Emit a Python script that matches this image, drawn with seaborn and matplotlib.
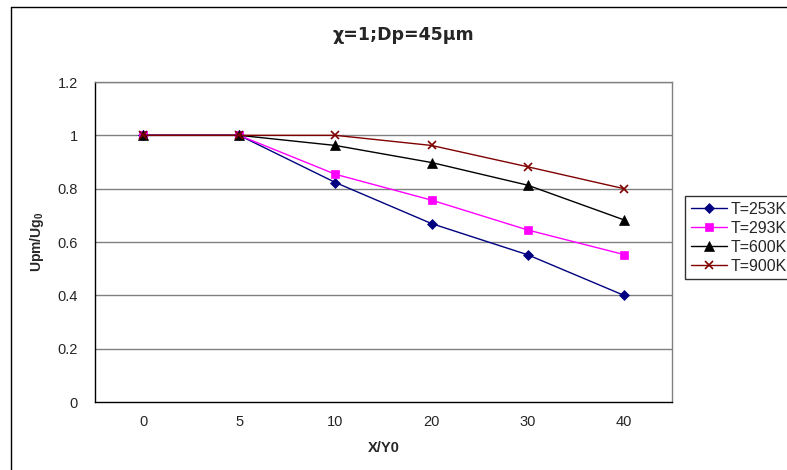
import matplotlib
matplotlib.use("Agg")
import matplotlib.pyplot as plt
import seaborn as sns
import pandas as pd
from matplotlib.lines import Line2D

categories = ["0", "5", "10", "20", "30", "40"]
t253 = [1.0, 1.0, 0.823, 0.669, 0.552, 0.40]
t293 = [1.0, 1.0, 0.854, 0.757, 0.645, 0.553]
t600 = [1.0, 1.0, 0.962, 0.898, 0.813, 0.683]
t900 = [1.0, 1.0, 1.0, 0.962, 0.882, 0.80]
series_names = ["T=253K", "T=293K", "T=600K", "T=900K"]
series_values = [t253, t293, t600, t900]
colors = ["#000080", "#FF00FF", "#000000", "#800000"]
markers = ["D", "s", "^", "x"]
msizes = [5, 5.5, 6.5, 6]
yticks = [0, 0.2, 0.4, 0.6, 0.8, 1.0, 1.2]
ytick_labels = ["0", "0.2", "0.4", "0.6", "0.8", "1", "1.2"]

rows = []
for name, vals in zip(series_names, series_values):
    for c, v in zip(categories, vals):
        rows.append({"x": c, "y": v, "T": name})
df = pd.DataFrame(rows)

sns.set_style("white")
plt.rcParams["font.family"] = ["Liberation Sans", "DejaVu Sans"]
plt.rcParams["mathtext.fontset"] = "custom"
plt.rcParams["mathtext.bf"] = "Liberation Sans:bold"
plt.rcParams["mathtext.rm"] = "Liberation Sans"

fig = plt.figure(figsize=(7.87, 4.70), dpi=100)
W, H = 787, 470
ax = fig.add_axes([95 / W, 1 - 402 / H, (672 - 95) / W, (402 - 82) / H])

sns.pointplot(data=df, x="x", y="y", hue="T", order=categories,
              hue_order=series_names, palette=colors, markers=markers,
              linestyles=["-"] * 4, errorbar=None, markersize=5,
              linewidth=1, ax=ax, legend=False)

for line, ms, m in zip(ax.lines, msizes, markers):
    line.set_markersize(ms)
    line.set_linewidth(1)
    line.set_markeredgewidth(1.2 if m == "x" else 0.5)

ax.set_xlim(-0.5, len(categories) - 0.5)
ax.set_ylim(0, 1.2)
ax.set_yticks(yticks)
ax.set_yticklabels(ytick_labels)
ax.set_xticks(range(len(categories)))
ax.set_xticklabels(categories)
ax.set_xticks([i - 0.5 for i in range(len(categories) + 1)], minor=True)
ax.tick_params(axis="x", which="major", length=0, pad=9, labelsize=10.5)
ax.tick_params(axis="x", which="minor", length=5, direction="inout", width=1, color="black")
ax.tick_params(axis="y", which="major", length=5, direction="inout", width=1,
               color="black", pad=10, labelsize=10.5)
ax.grid(False)
for y in yticks[1:]:
    ax.axhline(y, color="#808080", lw=1, zorder=0)
ax.set_xlabel("")
ax.set_ylabel("")
for s in ["top", "right"]:
    ax.spines[s].set_color("#808080")
    ax.spines[s].set_linewidth(1)
for s in ["left", "bottom"]:
    ax.spines[s].set_color("black")
    ax.spines[s].set_linewidth(1)

fig.text(403 / W, 1 - 35 / H, "χ=1;Dp=45μm", ha="center", va="center",
         fontsize=12.5, fontweight="bold", family=["DejaVu Sans"])
fig.text(384 / W, 1 - 448 / H, "X/Y0", ha="center", va="center",
         fontsize=10.5, fontweight="bold")
fig.text(37 / W, 1 - 242 / H, r"$\mathbf{Upm/Ug_0}$", ha="center", va="center",
         rotation=90, fontsize=10)

handles = [Line2D([0], [0], color=c, marker=m, lw=1, markersize=ms,
                  markeredgewidth=(1.2 if m == "x" else 0.5))
           for c, m, ms in zip(colors, markers, msizes)]
leg = fig.legend(handles, series_names, loc="upper left",
                 bbox_to_anchor=(685 / W, 1 - 196 / H), fontsize=11.5,
                 frameon=True, fancybox=False, edgecolor="black",
                 handlelength=2.3, handletextpad=0.2, labelspacing=0.25,
                 borderpad=0.35, borderaxespad=0)
leg.get_frame().set_linewidth(1)

fig.add_artist(Line2D([10.5 / W, 10.5 / W], [0, 1 - 7 / H], color="black", lw=1,
                      transform=fig.transFigure))
fig.add_artist(Line2D([10.5 / W, 1], [1 - 7 / H, 1 - 7 / H], color="black", lw=1,
                      transform=fig.transFigure))

fig.savefig("out.png", dpi=100)
